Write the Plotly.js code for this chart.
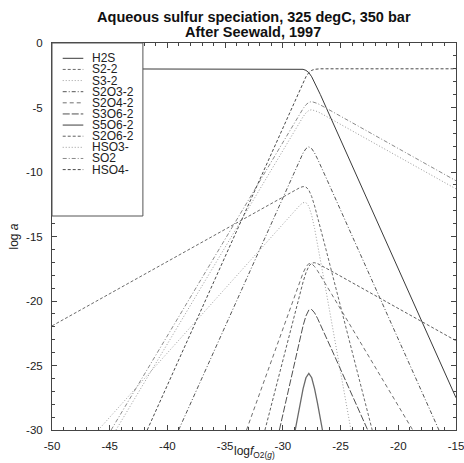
<!DOCTYPE html>
<html>
<head>
<meta charset="utf-8">
<script src="https://cdn.plot.ly/plotly-3.0.1.min.js"></script>
<style>html,body{margin:0;padding:0;background:#fff;}#chart{width:464px;height:463px;}</style>
</head>
<body>
<div id="chart"></div>
<script>
// ---- data (log fO2(g) vs log a) ----
const speciesNames = ['H2S','S2-2','S3-2','S2O3-2','S2O4-2','S3O6-2','S5O6-2','S2O6-2','HSO3-','SO2','HSO4-'];

const x_H2S = [-50, -29.25, -28.75, -28.5, -28.25, -28, -27.75, -27.5, -27.25, -27, -26.75, -26.25, -25.75, -15];
const y_H2S = [-2, -2, -2.0, -2.01, -2.04, -2.12, -2.3, -2.62, -3.04, -3.51, -4.0, -5.0, -6.0, -27.5];

const x_S2 = [-50, -29.25, -28.75, -28.5, -28.25, -28, -27.75, -27.5, -27.25, -27, -26.75, -26.25, -25.75, -22.26];
const y_S2 = [-21.93, -11.55, -11.31, -11.2, -11.13, -11.16, -11.4, -11.91, -12.63, -13.45, -14.31, -16.05, -17.8, -30];

const x_S3 = [-45.99, -29.25, -28.75, -28.5, -28.25, -28, -27.75, -27.5, -27.25, -27, -26.75, -26.25, -25.75, -24.10];
const y_S3 = [-30, -13.26, -12.77, -12.55, -12.38, -12.37, -12.66, -13.37, -14.38, -15.55, -16.77, -19.26, -21.76, -30];

const x_S2O3 = [-39.03, -29.25, -28.75, -28.5, -28.25, -28, -27.75, -27.5, -27.25, -27, -26.75, -26.25, -16.48];
const y_S2O3 = [-30, -10.45, -9.46, -8.98, -8.53, -8.19, -8.05, -8.19, -8.53, -8.98, -9.46, -10.45, -30];

const x_S2O4 = [-33.15, -29.25, -28.75, -28.5, -28.25, -28, -27.75, -27.5, -27.25, -27, -26.75, -26.25, -25.75, -18.75];
const y_S2O4 = [-30, -20.25, -19.01, -18.40, -17.83, -17.36, -17.10, -17.11, -17.33, -17.65, -18.01, -18.75, -19.5, -30];

const x_S3O6 = [-30.3, -29.75, -29.25, -28.75, -28.5, -28.25, -28, -27.75, -27.5, -27.25, -27, -26.75, -26.25, -25.75, -22.65];
const y_S3O6 = [-30, -27.8, -25.8, -23.81, -22.84, -21.92, -21.16, -20.70, -20.66, -20.92, -21.34, -21.81, -22.80, -23.8, -30];

const x_S5O6 = [-28.93, -28.75, -28.5, -28.25, -28, -27.75, -27.5, -27.25, -27, -26.75, -26.57];
const y_S5O6 = [-30, -29.12, -27.92, -26.81, -25.95, -25.61, -25.95, -26.81, -27.92, -29.12, -30];

const x_S2O6 = [-31.55, -29.25, -28.75, -28.5, -28.25, -28, -27.75, -27.5, -27.25, -27, -26.75, -26.25, -25.75, -15];
const y_S2O6 = [-30, -21.95, -20.21, -19.35, -18.53, -17.81, -17.30, -17.06, -17.03, -17.10, -17.21, -17.45, -17.7, -23.08];

const x_HSO3 = [-44.46, -29.25, -28.75, -28.5, -28.25, -28, -27.75, -27.5, -27.25, -27, -26.75, -26.25, -25.75, -15];
const y_HSO3 = [-30, -7.18, -6.43, -6.07, -5.72, -5.42, -5.23, -5.17, -5.22, -5.32, -5.43, -5.68, -5.93, -11.31];

const x_SO2 = [-44.88, -29.25, -28.75, -28.5, -28.25, -28, -27.75, -27.5, -27.25, -27, -26.75, -26.25, -25.75, -15];
const y_SO2 = [-30, -6.55, -5.80, -5.44, -5.09, -4.79, -4.60, -4.54, -4.59, -4.69, -4.80, -5.05, -5.3, -10.68];

const x_HSO4 = [-41.75, -29.25, -28.75, -28.5, -28.25, -28, -27.75, -27.5, -27.25, -27, -26.75, -26.25, -15];
const y_HSO4 = [-30, -5.0, -4.0, -3.51, -3.04, -2.62, -2.3, -2.12, -2.04, -2.01, -2.0, -2.0, -2];

const xTickVals = [-50, -45, -40, -35, -30, -25, -20, -15];
const xTickText = ['-50', '-45', '-40', '-35', '-30', '-25', '-20', '-15'];
const yTickVals = [0, -5, -10, -15, -20, -25, -30];
const yTickText = ['0', '-5', '-10', '-15', '-20', '-25', '-30'];

const titleLine1 = 'Aqueous sulfur speciation, 325 degC, 350 bar';
const titleLine2 = 'After Seewald, 1997';
const xTitle = 'log<i>f</i><sub>O2(<i>g</i>)</sub>';
const yTitle = 'log <i>a</i>';

// ---- styles ----
const seriesX = [x_H2S, x_S2, x_S3, x_S2O3, x_S2O4, x_S3O6, x_S5O6, x_S2O6, x_HSO3, x_SO2, x_HSO4];
const seriesY = [y_H2S, y_S2, y_S3, y_S2O3, y_S2O4, y_S3O6, y_S5O6, y_S2O6, y_HSO3, y_SO2, y_HSO4];
const styles = [
  {color:'#3a3a3a', dash:'solid', width:1},
  {color:'#6a6a6a', dash:'3px,2px', width:1},
  {color:'#a0a0a0', dash:'1px,2px', width:1},
  {color:'#555555', dash:'4px,2px,1px,2px', width:1},
  {color:'#707070', dash:'4px,3px', width:1},
  {color:'#505050', dash:'7px,2px', width:1},
  {color:'#6a6a6a', dash:'solid', width:1.3},
  {color:'#606060', dash:'3px,2px', width:1},
  {color:'#9a9a9a', dash:'1px,2px', width:1},
  {color:'#8a8a8a', dash:'4px,2px,1px,2px', width:1},
  {color:'#4a4a4a', dash:'3px,2px', width:1}
];

const traces = speciesNames.map((n, i) => ({
  type:'scatter', mode:'lines', name:n, x:seriesX[i], y:seriesY[i],
  line:{color:styles[i].color, dash:styles[i].dash, width:styles[i].width},
  showlegend:false, hoverinfo:'skip'
}));

const FAM = 'Liberation Sans, Arial, Helvetica, sans-serif';

// ---- manual legend (compact spacing like the reference) ----
const shapes = [];
const annotations = [];
const plotH = 387;
const legItem0 = 15.3, legStep = 11.13, legBottom = 173;
shapes.push({type:'rect', xref:'paper', yref:'paper', x0:0, x1:0.225, y0:1 - legBottom/plotH, y1:1,
  line:{color:'#555', width:1}, fillcolor:'white', layer:'above'});
speciesNames.forEach((n, i) => {
  const yp = 1 - (legItem0 + i*legStep)/plotH;
  shapes.push({type:'line', xref:'paper', yref:'paper', x0:0.0265, x1:0.0775, y0:yp, y1:yp,
    line:{color:styles[i].color, dash:styles[i].dash, width:styles[i].width}, layer:'above'});
  annotations.push({xref:'paper', yref:'paper', x:0.0958, y:yp, xanchor:'left', yanchor:'middle',
    text:n, showarrow:false, borderpad:0, font:{family:FAM, size:12, color:'#222'}});
});

// second title line (tighter line spacing than Plotly's <br>)
annotations.push({xref:'paper', yref:'paper', x:0.497, y:1 + (43-32.2)/plotH, xanchor:'center', yanchor:'middle',
  text:'<b>' + titleLine2 + '</b>', showarrow:false, font:{family:FAM, size:14.5, color:'#111'}});
// x axis title placed like the reference
annotations.push({xref:'paper', yref:'paper', x:0.5, y:-(452-430)/plotH, xanchor:'center', yanchor:'middle',
  text:xTitle, showarrow:false, borderpad:0, font:{family:FAM, size:12, color:'#222'}});

const axisFont = {family:FAM, size:11.5, color:'#222'};

const layout = {
  width:464, height:463,
  margin:{l:52, r:8, t:43, b:33, pad:0},
  paper_bgcolor:'#fff', plot_bgcolor:'#fff',
  title:{text:'<b>' + titleLine1 + '</b>',
    font:{family:FAM, size:14.5, color:'#111'},
    x:0.547, xanchor:'center', xref:'container', yref:'container', y:1 - 17.2/463, yanchor:'middle'},
  xaxis:{range:[-50,-15], tickmode:'array', tickvals:xTickVals, ticktext:xTickText,
    ticks:'inside', ticklen:5, tickcolor:'#444', tickwidth:1, ticklabeloverflow:'allow',
    minor:{tickmode:'linear', tick0:0, dtick:1, ticks:'inside', ticklen:3, tickcolor:'#444'},
    showline:true, linecolor:'#444', linewidth:1, mirror:'ticks', showgrid:false, zeroline:false,
    tickfont:axisFont, ticklabelstandoff:5},
  yaxis:{range:[-30,0], tickmode:'array', tickvals:yTickVals, ticktext:yTickText,
    ticks:'inside', ticklen:5, tickcolor:'#444', tickwidth:1, ticklabeloverflow:'allow',
    minor:{tickmode:'linear', tick0:0, dtick:1, ticks:'inside', ticklen:3, tickcolor:'#444'},
    showline:true, linecolor:'#444', linewidth:1, mirror:'ticks', showgrid:false, zeroline:false,
    tickfont:axisFont, ticklabelstandoff:6,
    title:{text:yTitle, font:{family:FAM, size:12, color:'#222'}, standoff:4}},
  shapes:shapes, annotations:annotations, showlegend:false
};

Plotly.newPlot('chart', traces, layout, {staticPlot:true, displayModeBar:false});
</script>
</body>
</html>
